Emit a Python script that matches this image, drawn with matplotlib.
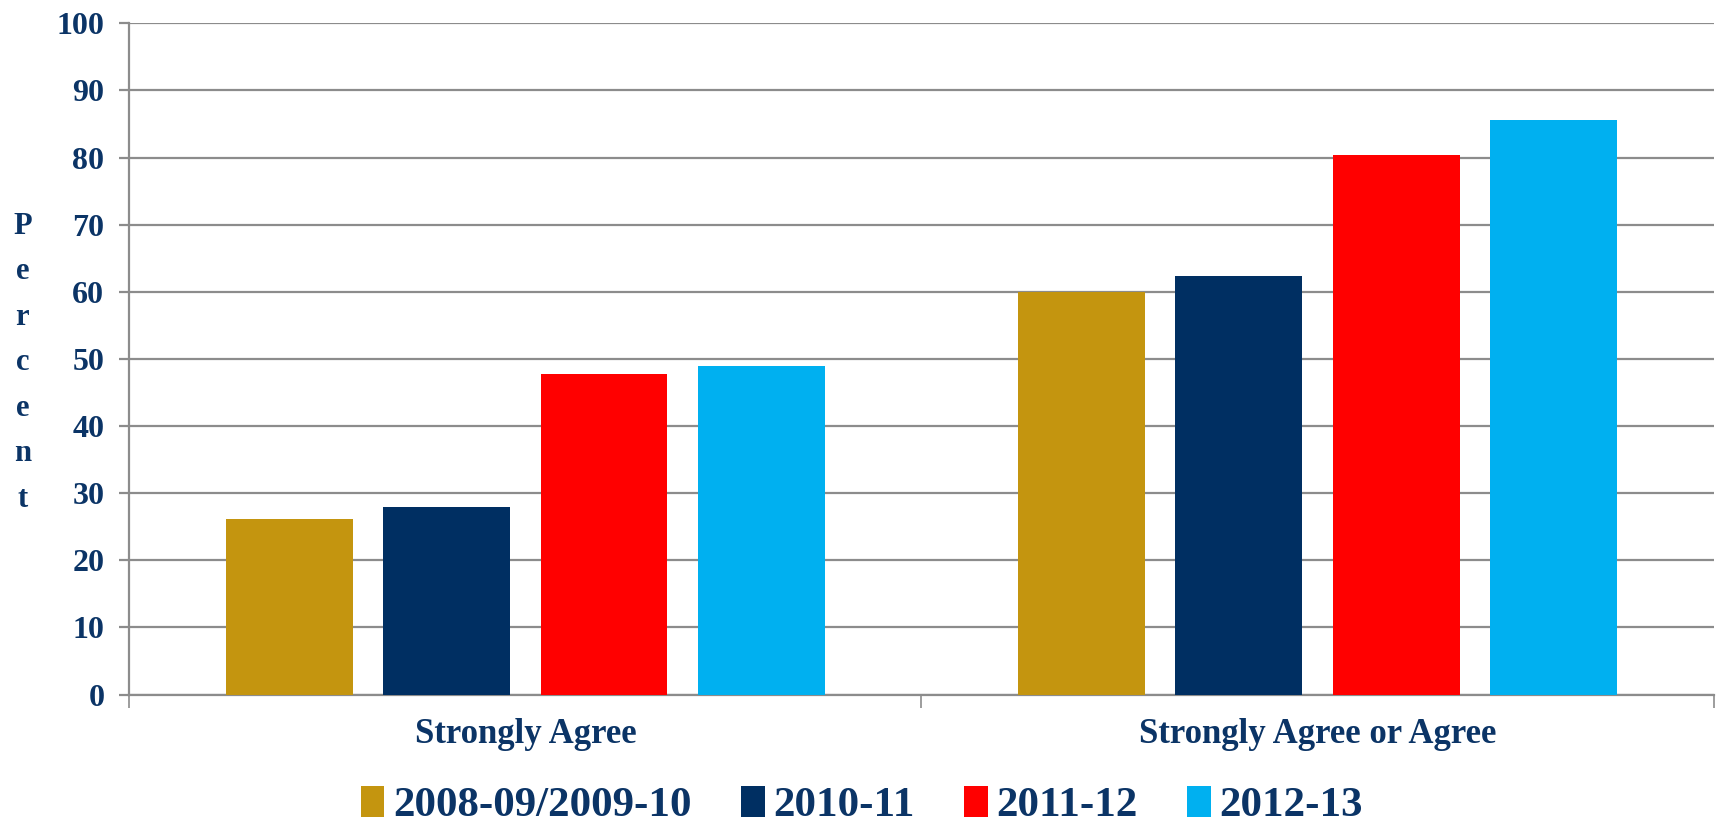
import numpy as np
import matplotlib
matplotlib.use('Agg')
import matplotlib.pyplot as plt

categories = ['Strongly Agree', 'Strongly Agree or Agree']
series_names = ['2008-09/2009-10', '2010-11', '2011-12', '2012-13']
series_values = [
    [26.2, 60.0],
    [27.9, 62.4],
    [47.7, 80.4],
    [49.0, 85.6],
]
series_colors = ['#C4950F', '#002F62', '#FF0000', '#00B0F0']
y_ticks = [0, 10, 20, 30, 40, 50, 60, 70, 80, 90, 100]

text_color = '#0B3466'
grid_color = '#8C8C8C'
plt.rcParams['font.family'] = ['Liberation Serif', 'DejaVu Serif']
plt.rcParams['font.weight'] = 'bold'

fig = plt.figure(figsize=(17.17, 8.23), dpi=100)
ax = fig.add_axes([0.0753, 0.156, 0.9227, 0.8157])

x = np.arange(len(categories))
step = 0.1986
width = 0.16
for i, (name, vals, col) in enumerate(zip(series_names, series_values, series_colors)):
    ax.bar(x + (i - 1.5) * step, vals, width=width, color=col, label=name, zorder=3)

ax.set_xlim(-0.5, len(categories) - 0.5)
ax.set_ylim(0, 100)
ax.set_yticks(y_ticks)
ax.yaxis.grid(True, color=grid_color, linewidth=1.6, zorder=0)
ax.set_axisbelow(True)

ax.set_xticks(x)
ax.set_xticklabels(categories)
ax.set_xticks(np.arange(-0.5, len(categories)), minor=True)
ax.tick_params(axis='x', which='major', length=0, pad=17, labelsize=25, labelcolor=text_color)
ax.tick_params(axis='x', which='minor', length=9, width=1.2, color=grid_color)
ax.tick_params(axis='y', length=7, width=1.6, color=grid_color, pad=11, labelsize=23, labelcolor=text_color)

for side in ['top', 'right']:
    ax.spines[side].set_visible(False)
for side in ['left', 'bottom']:
    ax.spines[side].set_color(grid_color)
    ax.spines[side].set_linewidth(1.6)

fig.text(0.013, 0.559, '\n'.join('Percent'), ha='center', va='center', fontsize=22,
         color=text_color, linespacing=1.75)

leg = fig.legend(loc='lower center', bbox_to_anchor=(0.502, -0.05), ncol=4, frameon=False,
                 fontsize=31, handlelength=0.55, handleheight=0.75, handletextpad=0.2,
                 columnspacing=1.15)
for t in leg.get_texts():
    t.set_color(text_color)

fig.savefig('out.png', dpi=100)
